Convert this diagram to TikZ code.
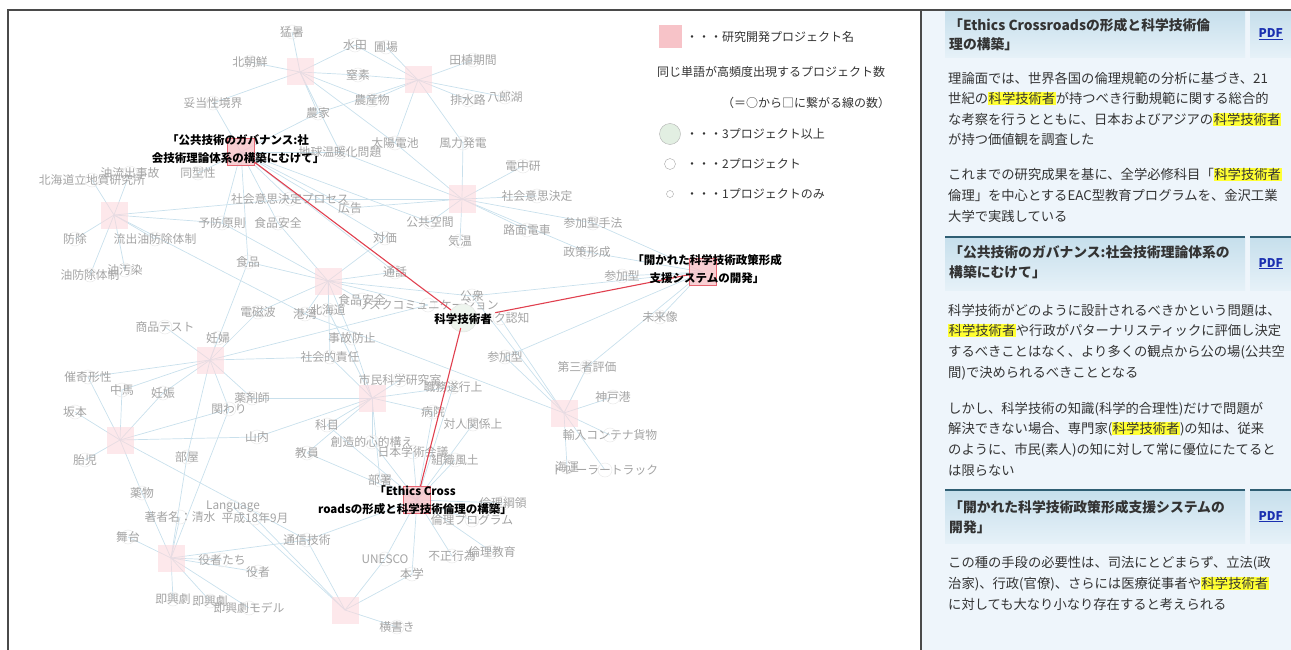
\documentclass[tikz,border=0pt]{standalone}
\usepackage{fontspec}
\setmainfont{Noto Sans CJK JP}
\usetikzlibrary{positioning}
\pgfdeclarelayer{links}
\pgfsetlayers{links,main}
\definecolor{linkblue}{HTML}{C9E0EC}
\definecolor{wordgray}{HTML}{A4A4A4}
\definecolor{projpink}{HTML}{FBD9DD}
\definecolor{projred}{HTML}{F7C3C8}
\definecolor{redline}{HTML}{E0404F}
\definecolor{panelblue}{HTML}{EEF5FB}
\definecolor{headtop}{HTML}{C6DFEC}
\definecolor{headbot}{HTML}{E6F1F8}
\definecolor{headline}{HTML}{2F5E73}
\definecolor{bodytext}{HTML}{333333}
\definecolor{hlyellow}{HTML}{FFFF33}
\definecolor{pdfblue}{HTML}{1A2FB0}
\definecolor{framegray}{HTML}{4A4A4A}
\definecolor{legendgreen}{HTML}{E2EFE2}
\newcommand{\hlw}[1]{{\setlength{\fboxsep}{0.6pt}\colorbox{hlyellow}{#1}}}
\begin{document}
\begin{tikzpicture}[x=1pt,y=-1pt,
  word/.style={text=wordgray,font=\fontsize{11.8}{12}\selectfont,inner sep=1pt},
  wcirc/.style={draw=gray!14,line width=0.6pt},
  proj/.style={fill=projpink,fill opacity=0.6,minimum width=27pt,minimum height=27pt,inner sep=0pt},
  projon/.style={proj,fill=projred,fill opacity=0.8,draw=redline!80,line width=0.8pt},
  plabel/.style={font=\bfseries\fontsize{11.5}{17.5}\selectfont,align=center,text=black},
  wordlink/.style={draw=linkblue,line width=0.7pt},
  redlink/.style={draw=redline,line width=1.1pt},
  legtext/.style={anchor=west,text=bodytext,font=\fontsize{12}{14}\selectfont,inner sep=0pt},
  hdbox/.style={anchor=north west,top color=headtop,bottom color=headbot,inner sep=0pt},
  hdtext/.style={anchor=base west,align=left,text=bodytext,font=\bfseries\fontsize{13.8}{19.5}\selectfont,inner sep=0pt},
  pdflink/.style={text=pdfblue,font=\bfseries\fontsize{12}{14}\selectfont},
  body/.style={anchor=base west,align=left,text=bodytext,font=\fontsize{13.3}{20.6}\selectfont,inner sep=0pt}]
\useasboundingbox (0,0) rectangle (1291,650);

% right panel
\fill[panelblue] (921,10) rectangle (1291,650);
\draw[framegray,line width=2pt] (8,650) -- (8,10) -- (1291,10);
\draw[framegray,line width=2pt] (921,10) -- (921,650);

% project squares
\node[proj] (p-kitachosen) at (300,72) {};
\node[proj] (p-taue) at (418,80) {};
\node[projon] (p-gov) at (241,152) {};
\node[proj] (p-oil) at (114,215) {};
\node[proj] (p-ishi) at (462,199) {};
\node[proj] (p-food) at (328,281) {};
\node[projon] (p-open) at (703,272) {};
\node[proj] (p-ninshin) at (210,360) {};
\node[proj] (p-shimin) at (372,398) {};
\node[proj] (p-yunyu) at (564,413) {};
\node[proj] (p-sakamoto) at (120,440) {};
\node[projon] (p-ethics) at (417,500) {};
\node[proj] (p-butai) at (171,558) {};
\node[proj] (p-yokogaki) at (345,610) {};

% words
\foreach \n/\x/\y/\t in {
  w-mosho/292/32/猛暑, w-kitachosen/250/62/北朝鮮, w-suiden/355/45/水田,
  w-hojo/386/47/圃場, w-taue/473/60/田植期間, w-chisso/358/75/窒素,
  w-nosan/372/100/農産物, w-haisui/468/100/排水路, w-hachiro/505/97/八郎湖,
  w-noka/318/113/農家, w-datosei/213/103/妥当性境界, w-taiyo/395/143/太陽電池,
  w-furyoku/463/143/風力発電, w-ondanka/340/152/地球温暖化問題, w-denchu/523/166/電中研,
  w-ishikettei/537/196/社会意思決定, w-hokkaido/92/180/北海道立地質研究所,
  w-ryushutsu/130/173/油流出事故, w-dokeisei/198/173/同型性,
  w-process/290/199/社会意思決定プロセス, w-kokoku/350/208/広告,
  w-yobo/222/223/予防原則, w-shokuan/278/223/食品安全, w-kokyo/430/222/公共空間,
  w-sanka1/593/223/参加型手法, w-romen/527/230/路面電車, w-taika/385/238/対価,
  w-kion/460/241/気温, w-bojo/75/239/防除, w-taisei/155/239/流出油防除体制,
  w-seisaku/587/252/政策形成, w-shokuhin/248/262/食品, w-yuboj/90/275/油防除体制,
  w-osen/125/270/油汚染, w-tsuwa/395/272/通話, w-sanka2/622/276/参加型,
  w-koshu/472/296/公衆, w-shokuan2/362/300/食品安全, w-riskcom/428/305/リスクコミュニケーション,
  w-denji/258/312/電磁波, w-kowan/305/314/港湾, w-hokkai/328/310/北海道,
  w-ninchi/500/318/リスク認知, w-shohin/165/327/商品テスト, w-ninpu/218/338/妊婦,
  w-jiko/352/338/事故防止, w-sekinin/330/357/社会的責任, w-sanka3/505/357/参加型,
  w-daisan/587/367/第三者評価, w-mirai/660/317/未来像, w-shimin/400/380/市民科学研究室,
  w-shokumu/453/387/職務遂行上, w-kobe/613/397/神戸港, w-saiki/88/377/催奇形性,
  w-chuma/122/390/中馬, w-ninshin/163/393/妊娠, w-yakuzai/252/398/薬剤師,
  w-kakawari/229/409/関わり, w-sakamoto/75/412/坂本, w-byoin/433/412/病院,
  w-kamoku/327/425/科目, w-taijin/473/424/対人関係上, w-yunyu/610/435/輸入コンテナ貨物,
  w-yamauchi/257/437/山内, w-sozo/372/442/創造的心的構え, w-gakujutsu/413/452/日本学術会議,
  w-kyoin/307/453/教員, w-taiji/85/460/胎児, w-heya/187/457/部屋,
  w-fudo/455/460/組織風土, w-trailer/605/470/トレーラートラック, w-kaiun/567/467/海運,
  w-busho/380/480/部署, w-yakubutsu/142/493/薬物, w-language/233/507/Language,
  w-chosha/180/517/著者名：清水, w-heisei/255/518/平成18年9月, w-koryo/503/503/倫理綱領,
  w-program/472/520/倫理プログラム, w-butai/128/537/舞台, w-tsushin/307/540/通信技術,
  w-unesco/385/559/UNESCO, w-fusei/452/556/不正行為, w-kyoiku/492/552/倫理教育,
  w-yakusha/222/560/役者たち, w-yakusha2/258/572/役者, w-honga/412/574/本学,
  w-sokkyo/173/599/即興劇, w-sokkyo2/210/601/即興劇, w-model/249/608/即興劇モデル,
  w-yokogaki/397/627/横書き}
{
  \draw[wcirc] (\x,\y) circle (7);
  \node[word] (\n) at (\x,\y) {\t};
}

% hub word
\draw[fill=legendgreen!60,draw=gray!25] (463,318) circle (14);
\node[font=\bfseries\fontsize{11.5}{12}\selectfont] (h-kagaku) at (463,319) {科学技術者};

% links between projects and words
\begin{pgfonlayer}{links}
\foreach \p/\ws in {
  p-kitachosen/{w-mosho,w-kitachosen,w-suiden,w-chisso,w-noka,w-datosei,w-ondanka,w-taiyo,w-nosan},
  p-taue/{w-suiden,w-hojo,w-taue,w-chisso,w-nosan,w-haisui,w-hachiro,w-noka,w-taiyo,w-furyoku},
  p-gov/{w-datosei,w-dokeisei,w-process,w-yobo,w-shokuan,w-shokuhin,w-taika,w-kokyo,w-ondanka,w-noka,w-kokoku,w-tsuwa},
  p-oil/{w-hokkaido,w-ryushutsu,w-bojo,w-taisei,w-osen,w-yuboj,w-process,w-kowan,w-yobo},
  p-ishi/{w-furyoku,w-denchu,w-ishikettei,w-process,w-taiyo,w-kokyo,w-romen,w-sanka1,w-seisaku,w-kion,w-ondanka,w-kokoku},
  p-food/{w-shokuhin,w-shokuan,w-yobo,w-denji,w-kowan,w-hokkai,w-shokuan2,w-riskcom,w-tsuwa,w-taika,w-jiko,w-sekinin,w-koshu},
  p-open/{w-sanka1,w-seisaku,w-sanka2,w-mirai,w-koshu,w-daisan,w-sanka3},
  p-ninshin/{w-shohin,w-ninpu,w-ninshin,w-chuma,w-yakuzai,w-kakawari,w-denji,w-shokuhin,w-heya,w-sekinin,w-saiki,w-riskcom},
  p-shimin/{w-shimin,w-shokumu,w-kamoku,w-kyoin,w-sozo,w-sekinin,w-jiko,w-yakuzai,w-yamauchi,w-byoin,w-hokkai,w-busho},
  p-yunyu/{w-kobe,w-yunyu,w-trailer,w-kaiun,w-daisan,w-sanka3,w-kowan,w-ninchi,w-koshu},
  p-sakamoto/{w-saiki,w-chuma,w-sakamoto,w-taiji,w-yakubutsu,w-ninshin,w-yamauchi,w-kakawari,w-tsushin},
  p-ethics/{w-byoin,w-taijin,w-sozo,w-gakujutsu,w-fudo,w-busho,w-koryo,w-program,w-fusei,w-kyoiku,w-unesco,w-honga,w-tsushin,w-kamoku,w-kyoin,w-shokumu},
  p-butai/{w-butai,w-yakubutsu,w-yakusha,w-yakusha2,w-sokkyo,w-sokkyo2,w-model,w-heya,w-kakawari,w-tsushin,w-chosha},
  p-yokogaki/{w-yokogaki,w-honga,w-unesco,w-tsushin,w-language,w-heisei}}
{
  \foreach \w in \ws
    \draw[wordlink] (\p.center) -- (\w.center);
}
\end{pgfonlayer}

% red links
\draw[redlink] (p-gov) -- (h-kagaku);
\draw[redlink] (h-kagaku) -- (p-open);
\draw[redlink] (h-kagaku) -- (p-ethics);

% project labels
\node[plabel] (l-gov) at (238,149) {「公共技術のガバナンス:社\\会技術理論体系の構築にむけて」};
\node[plabel] (l-open) at (707,269) {「開かれた科学技術政策形成\\支援システムの開発」};
\node[plabel] (l-ethics) at (415,500) {「Ethics Cross\\roadsの形成と科学技術倫理の構築」};

% legend
\node[fill=projred,minimum width=23pt,minimum height=23pt,inner sep=0pt] (k-square) at (670,37) {};
\node[legtext] (k-proj) at (686,37) {・・・研究開発プロジェクト名};
\node[legtext] (k-title) at (657,72) {同じ単語が高頻度出現するプロジェクト数};
\node[legtext] (k-note) at (722,103) {（＝○から□に繋がる線の数）};
\node[circle,draw=gray!60,fill=legendgreen,minimum size=21pt,inner sep=0pt] (k-big) at (670,134) {};
\node[legtext] (k-three) at (686,134) {・・・3プロジェクト以上};
\node[circle,draw=gray!70,minimum size=11pt,inner sep=0pt] (k-mid) at (670,164) {};
\node[legtext] (k-two) at (686,164) {・・・2プロジェクト};
\node[circle,draw=gray!70,minimum size=7pt,inner sep=0pt] (k-small) at (670,194) {};
\node[legtext] (k-one) at (686,194) {・・・1プロジェクトのみ};

% section 1 (base anchor sits on the last line)
\node[hdbox,minimum width=300pt,minimum height=46pt] (hd1) at (945,11) {};
\node[hdbox,minimum width=41pt,minimum height=46pt] (pd1) at (1250,11) {};
\node[hdtext] (ht1) at (949,50) {「Ethics Crossroadsの形成と科学技術倫\\理の構築」};
\node[pdflink] (pdf1) at (pd1.center) {\underline{PDF}};
\node[body] (b1) at (948,145) {理論面では、世界各国の倫理規範の分析に基づき、21\\
世紀の\hlw{科学技術者}が持つべき行動規範に関する総合的\\
な考察を行うとともに、日本およびアジアの\hlw{科学技術者}\\
が持つ価値観を調査した};
\node[body] (b2) at (948,221) {これまでの研究成果を基に、全学必修科目「\hlw{科学技術者}\\
倫理」を中心とするEAC型教育プログラムを、金沢工業\\
大学で実践している};

% section 2
\node[hdbox,minimum width=300pt,minimum height=53pt] (hd2) at (945,237) {};
\node[hdbox,minimum width=41pt,minimum height=53pt] (pd2) at (1250,237) {};
\draw[headline,line width=2pt] (hd2.north west) -- (hd2.north east);
\draw[headline,line width=2pt] (pd2.north west) -- (pd2.north east);
\node[hdtext] (ht2) at (949,277) {「公共技術のガバナンス:社会技術理論体系の\\構築にむけて」};
\node[pdflink] (pdf2) at (pd2.center) {\underline{PDF}};
\node[body] (b3) at (948,377) {科学技術がどのように設計されるべきかという問題は、\\
\hlw{科学技術者}や行政がパターナリスティックに評価し決定\\
するべきことはなく、より多くの観点から公の場(公共空\\
間)で決められるべきこととなる};
\node[body] (b4) at (948,475) {しかし、科学技術の知識(科学的合理性)だけで問題が\\
解決できない場合、専門家(\hlw{科学技術者})の知は、従来\\
のように、市民(素人)の知に対して常に優位にたてると\\
は限らない};

% section 3
\node[hdbox,minimum width=300pt,minimum height=53pt] (hd3) at (945,490) {};
\node[hdbox,minimum width=41pt,minimum height=53pt] (pd3) at (1250,490) {};
\draw[headline,line width=2pt] (hd3.north west) -- (hd3.north east);
\draw[headline,line width=2pt] (pd3.north west) -- (pd3.north east);
\node[hdtext] (ht3) at (949,532) {「開かれた科学技術政策形成支援システムの\\開発」};
\node[pdflink] (pdf3) at (pd3.center) {\underline{PDF}};
\node[body] (b5) at (948,609) {この種の手段の必要性は、司法にとどまらず、立法(政\\
治家)、行政(官僚)、さらには医療従事者や\hlw{科学技術者}\\
に対しても大なり小なり存在すると考えられる};
\end{tikzpicture}
\end{document}
